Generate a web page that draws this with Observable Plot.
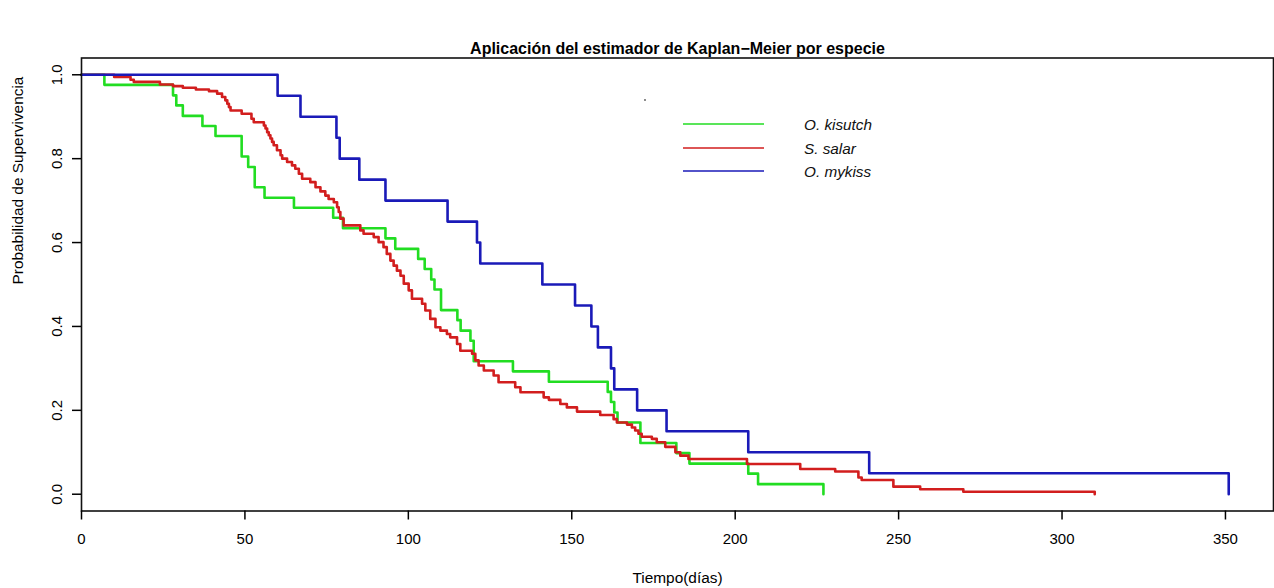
<!DOCTYPE html>
<html><head><meta charset="utf-8">
<script src="https://cdn.jsdelivr.net/npm/d3@7"></script>
<script src="https://cdn.jsdelivr.net/npm/@observablehq/plot@0.6"></script>
<style>
html,body{margin:0;padding:0;background:#fff;}
#wrap{position:relative;width:1274px;height:588px;font-family:"Liberation Sans",Arial,sans-serif;}
#wrap svg{display:block;}
#legend{position:absolute;left:0;top:0;pointer-events:none;}
</style></head><body><div id="wrap"></div>
<script>
const species = ["O. kisutch", "S. salar", "O. mykiss"];
const colors = ["#22dd22", "#d21e1e", "#1a1ab8"];

const kisutchTime = [0,7,28,29,31,37,41,49,51,53,56,65,77,80,93,96,103,105,107,108,110,115,116,119,120,132,143,161,162,163,164,171,182,186,204,207,227];
const kisutchSurv = [1,0.976,0.951,0.927,0.902,0.878,0.854,0.805,0.780,0.732,0.707,0.683,0.659,0.634,0.610,0.585,0.561,0.537,0.512,0.488,0.439,0.415,0.390,0.366,0.317,0.293,0.268,0.244,0.220,0.195,0.171,0.122,0.098,0.073,0.049,0.024,0];

const salarTime = [0,10,15,16,24,28,31,35,39,41.5,43,44,44.6,45.1,45.6,49,52,52.7,55.8,56.3,56.8,57.3,57.8,58.3,58.8,59.8,60.9,61.4,62.9,64.4,65.4,66.5,67.5,70,71.6,73.1,74.6,75.6,77.2,78.2,78.7,79.2,80.2,85.3,86.3,89.4,90.9,92.4,93.4,94.5,95.5,96.5,97.6,98.6,100.1,101.1,104.2,105.2,106.7,108.3,109.8,111.8,112.8,114.9,115.9,119.5,120.5,121.5,123.1,126.1,127.6,132.7,134.3,141.4,143,146.5,148.5,151.6,158.7,162.8,163.8,166.9,168.4,169.4,170.4,171.4,174.5,176,178.6,181.7,183.2,185.7,203.6,219.9,230.6,237.7,238.7,248.4,256.6,269.8,310];
const salarSurv = [1,0.995,0.988,0.983,0.977,0.973,0.969,0.965,0.961,0.955,0.947,0.939,0.931,0.923,0.915,0.907,0.895,0.887,0.879,0.872,0.863,0.856,0.848,0.840,0.832,0.820,0.808,0.800,0.792,0.784,0.776,0.764,0.752,0.744,0.732,0.722,0.712,0.704,0.696,0.684,0.673,0.657,0.641,0.629,0.621,0.613,0.601,0.589,0.573,0.557,0.545,0.533,0.521,0.502,0.486,0.466,0.454,0.438,0.418,0.398,0.390,0.382,0.374,0.358,0.342,0.335,0.319,0.307,0.295,0.283,0.267,0.255,0.243,0.231,0.225,0.215,0.207,0.197,0.189,0.179,0.171,0.166,0.159,0.152,0.144,0.137,0.132,0.124,0.113,0.100,0.092,0.084,0.072,0.060,0.054,0.040,0.034,0.018,0.012,0.006,0];

const mykissTime = [0,60,67,78,79,85,93,112,121,122,141,151,156,158,162,163,170,179,204,241,351];
const mykissSurv = [1,0.95,0.9,0.85,0.8,0.75,0.7,0.65,0.6,0.55,0.5,0.45,0.4,0.35,0.3,0.25,0.2,0.15,0.1,0.05,0];

const xTicks = [0,50,100,150,200,250,300,350];
const yTicks = [0,0.2,0.4,0.6,0.8,1.0];

const title = "Aplicación del estimador de Kaplan−Meier por especie";
const xLabel = "Tiempo(días)";
const yLabel = "Probabilidad de Supervivencia";

const series = [[kisutchTime, kisutchSurv], [salarTime, salarSurv], [mykissTime, mykissSurv]];
const rows = [];
series.forEach(([t, s], i) => t.forEach((v, j) => rows.push({species: species[i], t: v, s: s[j]})));

const font = "'Liberation Sans', Arial, Helvetica, sans-serif";

const chart = Plot.plot({
  width: 1274, height: 588,
  marginLeft: 81, marginRight: 1, marginTop: 57.5, marginBottom: 77.5,
  x: {domain: [0, 364.7]},
  y: {domain: [-0.04, 1.04]},
  color: {domain: species, range: colors},
  style: {fontFamily: font, fontSize: "15px", color: "#000", background: "#fff", overflow: "visible"},
  marks: [
    Plot.line(rows, {x: "t", y: "s", z: "species", stroke: "species", curve: "step-after", strokeWidth: 2.6}),
    Plot.frame({stroke: "#111", strokeWidth: 1.6}),
    Plot.axisX({ticks: xTicks, tickSize: 9, tickPadding: 13, label: null, tickFormat: d => String(d), strokeWidth: 1.5, fontSize: 15}),
    Plot.axisY({ticks: yTicks, tickSize: 9, tickPadding: 11, tickRotate: -90, tickFormat: d3.format(".1f"), label: null, strokeWidth: 1.5, fontSize: 15}),
    Plot.text([title], {frameAnchor: "top", dy: -4, lineAnchor: "bottom", fontWeight: "bold", fontSize: 16}),
    Plot.text([xLabel], {frameAnchor: "bottom", dy: 71.5, lineAnchor: "bottom", fontSize: 15.4}),
    Plot.text([yLabel], {frameAnchor: "left", dx: -69, rotate: -90, lineAnchor: "top", fontSize: 15.4})
  ]
});
const wrap = document.getElementById("wrap");
wrap.appendChild(chart);

// Legend (R-style, no box)
const legendRowY = [124, 148, 171];
const leg = d3.select(wrap).append("svg").attr("id", "legend")
  .attr("width", 1274).attr("height", 588);
species.forEach((name, i) => {
  leg.append("line").attr("x1", 683).attr("x2", 764)
    .attr("y1", legendRowY[i]).attr("y2", legendRowY[i])
    .attr("stroke", colors[i]).attr("stroke-width", 1.6);
  leg.append("text").attr("x", 804).attr("y", legendRowY[i] + 5.5)
    .attr("font-family", font).attr("font-size", 15.3).attr("font-style", "italic")
    .attr("fill", "#111").text(name);
});
// small stray dot present in the reference image
leg.append("circle").attr("cx", 645).attr("cy", 100).attr("r", 0.9).attr("fill", "#555");
</script>
</body></html>
